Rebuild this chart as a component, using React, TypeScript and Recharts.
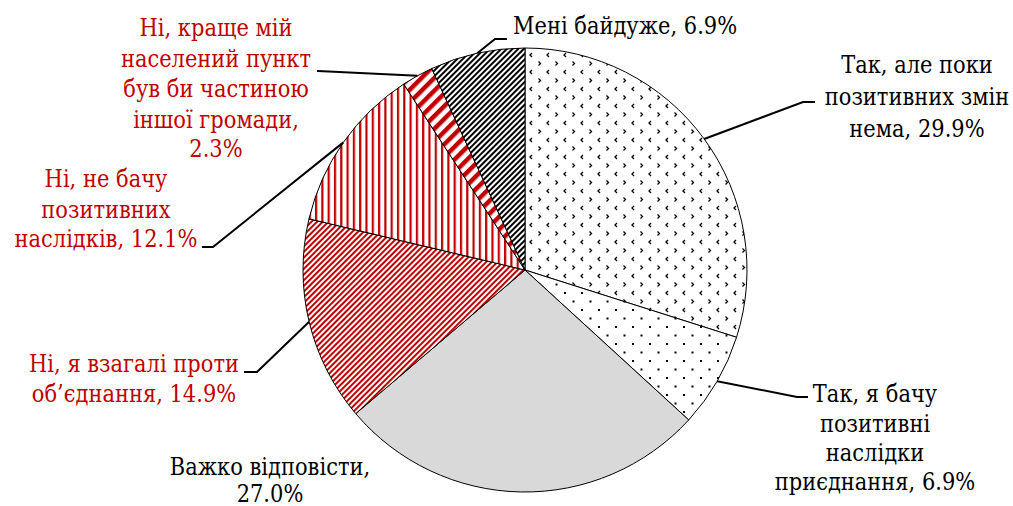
import React from 'react';
import { PieChart, Pie, Cell } from 'recharts';

// answers, clockwise from 12 o'clock
const categories = [
    'Так, але поки позитивних змін нема',
    'Так, я бачу позитивні наслідки приєднання',
    'Важко відповісти',
    'Ні, я взагалі проти об’єднання',
    'Ні, не бачу позитивних наслідків',
    'Ні, краще мій населений пункт був би частиною іншої громади',
    'Мені байдуже',
];
const shares = [29.9, 6.9, 27.0, 14.9, 12.1, 2.3, 6.9];

// label text, split the way it is wrapped in the picture
const labelLines = [
    ['Так, але поки', 'позитивних змін', 'нема, 29.9%'],
    ['Так, я бачу', 'позитивні', 'наслідки', 'приєднання, 6.9%'],
    ['Важко відповісти,', '27.0%'],
    ['Ні, я взагалі проти', 'об’єднання, 14.9%'],
    ['Ні, не бачу', 'позитивних', 'наслідків, 12.1%'],
    ['Ні, краще мій', 'населений пункт', 'був би частиною', 'іншої громади,', '2.3%'],
    ['Мені байдуже, 6.9%'],
];

const data = categories.map((name, i) => ({ name, value: shares[i] }));

const RED = '#c00000';
const fills = ['url(#pChev)', 'url(#pDots)', '#d9d9d9', 'url(#pRedDiag)', 'url(#pRedVert)', 'url(#pRedWide)', 'url(#pBlackDiag)'];
const textColors = ['#000', '#000', '#000', RED, RED, RED, '#000'];

// label layout: text x, anchor, baselines, leader elbow + end (null = no leader)
const layout = [
    { x: 917, anchor: 'middle', ys: [73, 105, 137], elbow: [803, 102], end: [815, 102] },
    { x: 875, anchor: 'middle', ys: [402, 432, 461, 490], elbow: [797, 397], end: [808, 397] },
    { x: 270, anchor: 'middle', ys: [475, 502], elbow: null, end: null },
    { x: 134, anchor: 'middle', ys: [372, 402], elbow: [257, 372], end: [244, 372] },
    { x: 106, anchor: 'middle', ys: [187, 218, 247], elbow: [213, 247], end: [202, 247] },
    { x: 216, anchor: 'middle', ys: [36, 67, 97, 128, 157], elbow: [318, 71], end: [317, 71] },
    { x: 513, anchor: 'start', ys: [34], elbow: [495, 39], end: [507, 39] },
];

const RADIAN = Math.PI / 180;
// only DejaVu Serif is available as a serif face; squeeze it to Times proportions
const SERIF = 'DejaVu Serif';
const SQUEEZE = 0.84;

const renderLabel = (props: any) => {
    const { cx, cy, midAngle, outerRadius, index } = props;
    const l = layout[index];
    const sx = cx + outerRadius * Math.cos(-midAngle * RADIAN);
    const sy = cy + outerRadius * Math.sin(-midAngle * RADIAN);
    return (
        <g key={`lbl-${index}`}>
            {l.elbow && (
                <polyline
                    points={`${sx},${sy} ${l.elbow[0]},${l.elbow[1]} ${l.end[0]},${l.end[1]}`}
                    fill="none"
                    stroke="#000"
                    strokeWidth={2}
                />
            )}
            <g transform={`translate(${l.x},0) scale(${SQUEEZE},1)`}>
                <text textAnchor={l.anchor} fill={textColors[index]} fontFamily={SERIF} fontSize={25}>
                    {labelLines[index].map((line, j) => (
                        <tspan key={j} x={0} y={l.ys[j]}>{line}</tspan>
                    ))}
                </text>
            </g>
        </g>
    );
};

export default function App() {
    return (
        <div style={{ position: 'absolute', left: 0, top: 0, width: 1013, height: 506, background: '#fff' }}>
            <PieChart width={1013} height={506} margin={{ top: 0, right: 0, bottom: 0, left: 0 }}>
                <defs>
                    <pattern id="pChev" width="17" height="17" patternUnits="userSpaceOnUse">
                        <rect width="17" height="17" fill="#fff" />
                        <path d="M5,2 L3,4 L5,6" fill="none" stroke="#000" strokeWidth="1.3" />
                        <path d="M11.5,10.5 L13.5,12.5 L11.5,14.5" fill="none" stroke="#000" strokeWidth="1.3" />
                    </pattern>
                    <pattern id="pDots" width="17" height="17" patternUnits="userSpaceOnUse">
                        <rect width="17" height="17" fill="#fff" />
                        <rect x="3" y="3" width="2" height="2" fill="#000" />
                        <rect x="11.5" y="11.5" width="2" height="2" fill="#000" />
                    </pattern>
                    <pattern id="pRedDiag" width="4" height="4" patternUnits="userSpaceOnUse" patternTransform="rotate(45)">
                        <rect width="4" height="4" fill="#fff" />
                        <rect width="2" height="4" fill={RED} />
                    </pattern>
                    <pattern id="pRedVert" width="6.3" height="6.3" patternUnits="userSpaceOnUse">
                        <rect width="6.3" height="6.3" fill="#fff" />
                        <rect width="2.2" height="6.3" fill={RED} />
                    </pattern>
                    <pattern id="pRedWide" width="9" height="9" patternUnits="userSpaceOnUse" patternTransform="rotate(45)">
                        <rect width="9" height="9" fill="#fff" />
                        <rect width="4.5" height="9" fill={RED} />
                    </pattern>
                    <pattern id="pBlackDiag" width="4" height="4" patternUnits="userSpaceOnUse" patternTransform="rotate(45)">
                        <rect width="4" height="4" fill="#fff" />
                        <rect width="2" height="4" fill="#000" />
                    </pattern>
                </defs>
                <Pie
                    data={data}
                    dataKey="value"
                    nameKey="name"
                    cx={525}
                    cy={270}
                    outerRadius={222}
                    innerRadius={0}
                    startAngle={90}
                    endAngle={-270}
                    stroke="#000"
                    strokeWidth={1}
                    label={renderLabel}
                    labelLine={false}
                    isAnimationActive={false}
                >
                    {data.map((_entry, index) => (
                        <Cell key={`cell-${index}`} fill={fills[index]} />
                    ))}
                </Pie>
            </PieChart>
        </div>
    );
}
